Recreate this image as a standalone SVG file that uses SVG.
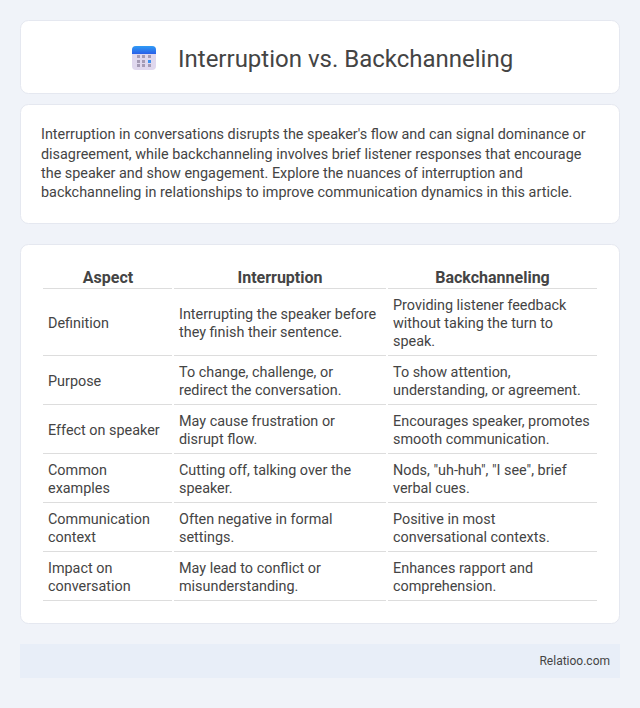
<svg xmlns="http://www.w3.org/2000/svg" width="640" height="708" viewBox="0 0 640 708">
<style>
text{font-family:Roboto,"Liberation Sans",sans-serif;fill:#444}
.card{fill:#fff;stroke:#e5e8f0;stroke-width:1}
.p{font-size:14.4px}
.c{font-size:14.4px}
.h{font-size:16px;font-weight:700;text-anchor:middle}
.l{stroke:#ddd;stroke-width:1;fill:none}
</style>
<defs><linearGradient id="top" x1="0" y1="0" x2="0" y2="1"><stop offset="0" stop-color="#2f9bf5"/><stop offset="1" stop-color="#2a5fe8"/></linearGradient></defs>
<rect width="640" height="708" fill="#f0f3f9"/>
<g id="title"><rect class="card" x="20.5" y="20.5" width="599" height="73" rx="8"/>
<g id="icon"><rect x="132" y="46" width="24" height="24" rx="4" fill="#e0d8ee"/><path d="M132 54v-4a4 4 0 0 1 4-4h16a4 4 0 0 1 4 4v4z" fill="url(#top)"/>
<g fill="#a59bb5"><rect x="137" y="55" width="3" height="3"/><rect x="142" y="55" width="3" height="3"/><rect x="148" y="55" width="3" height="3"/><rect x="137" y="60" width="3" height="3"/><rect x="142" y="60" width="3" height="3"/><rect x="137" y="64" width="3" height="3"/><rect x="142" y="64" width="3" height="3"/><rect x="148" y="64" width="3" height="3"/></g><rect x="148" y="60" width="3" height="3" fill="#3a8ff0"/></g>
<text x="178" y="67" font-size="24px">Interruption vs. Backchanneling</text></g>
<g id="intro"><rect class="card" x="20.5" y="104.5" width="599" height="119" rx="8"/>
<text class="p" x="41" y="139">Interruption in conversations disrupts the speaker's flow and can signal dominance or</text>
<text class="p" x="41" y="158.500">disagreement, while backchanneling involves brief listener responses that encourage</text>
<text class="p" x="41" y="178">the speaker and show engagement. Explore the nuances of interruption and</text>
<text class="p" x="41" y="197">backchanneling in relationships to improve communication dynamics in this article.</text></g>
<g id="table"><rect class="card" x="20.5" y="244.5" width="599" height="379" rx="8"/>
<text class="h" x="108" y="283">Aspect</text><text class="h" x="280" y="283">Interruption</text><text class="h" x="492.500" y="283">Backchanneling</text>
<path class="l" d="M43 288.500h129M174 288.500h212M388 288.500h209M43 355.500h129M174 355.500h212M388 355.500h209M43 404.500h129M174 404.500h212M388 404.500h209M43 453.500h129M174 453.500h212M388 453.500h209M43 502.500h129M174 502.500h212M388 502.500h209M43 551.500h129M174 551.500h212M388 551.500h209M43 600.500h129M174 600.500h212M388 600.500h209"/>
<g>
<text class="c" x="48" y="328">Definition</text>
<text class="c" x="179" y="319">Interrupting the speaker before</text><text class="c" x="179" y="337">they finish their sentence.</text>
<text class="c" x="393" y="310">Providing listener feedback</text><text class="c" x="393" y="328">without taking the turn to</text><text class="c" x="393" y="346">speak.</text>
<text class="c" x="48" y="386">Purpose</text>
<text class="c" x="179" y="377">To change, challenge, or</text><text class="c" x="179" y="395">redirect the conversation.</text>
<text class="c" x="393" y="377">To show attention,</text><text class="c" x="393" y="395">understanding, or agreement.</text>
<text class="c" x="48" y="435">Effect on speaker</text>
<text class="c" x="179" y="426">May cause frustration or</text><text class="c" x="179" y="444">disrupt flow.</text>
<text class="c" x="393" y="426">Encourages speaker, promotes</text><text class="c" x="393" y="444">smooth communication.</text>
<text class="c" x="48" y="475">Common</text><text class="c" x="48" y="493">examples</text>
<text class="c" x="179" y="475">Cutting off, talking over the</text><text class="c" x="179" y="493">speaker.</text>
<text class="c" x="393" y="475">Nods, "uh-huh", "I see", brief</text><text class="c" x="393" y="493">verbal cues.</text>
<text class="c" x="48" y="524">Communication</text><text class="c" x="48" y="542">context</text>
<text class="c" x="179" y="524">Often negative in formal</text><text class="c" x="179" y="542">settings.</text>
<text class="c" x="393" y="524">Positive in most</text><text class="c" x="393" y="542">conversational contexts.</text>
<text class="c" x="48" y="573">Impact on</text><text class="c" x="48" y="591">conversation</text>
<text class="c" x="179" y="573">May lead to conflict or</text><text class="c" x="179" y="591">misunderstanding.</text>
<text class="c" x="393" y="573">Enhances rapport and</text><text class="c" x="393" y="591">comprehension.</text>
</g></g>
<g id="footer"><rect x="20" y="644" width="600" height="34" fill="#e8eef8"/><text x="610" y="665" font-size="12px" text-anchor="end">Relatioo.com</text></g>
</svg>
